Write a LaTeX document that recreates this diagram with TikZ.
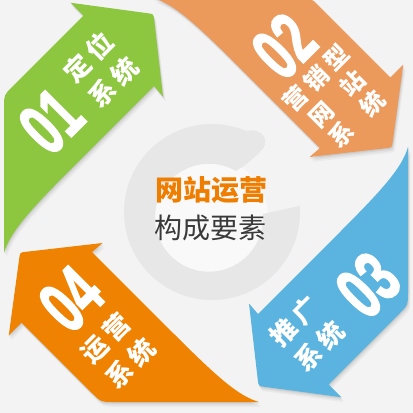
\documentclass[tikz,border=0pt]{standalone}
\usepackage{fontspec}
\newfontfamily\cjk{Noto Sans CJK SC}
\newfontfamily\dig{Liberation Sans}[BoldFeatures={FakeBold=2.5}]
\definecolor{bgc}{HTML}{F3F3F3}
\definecolor{ringc}{HTML}{E7E7E7}
\definecolor{innerc}{HTML}{F9F9F9}
\definecolor{cgreen}{HTML}{8DC63F}
\definecolor{corange}{HTML}{EC9A5C}
\definecolor{cblue}{HTML}{5AB4DF}
\definecolor{cdorange}{HTML}{EF8200}
\definecolor{ctitle}{HTML}{EE7D00}
\definecolor{ctext}{HTML}{3A3A3A}
\newcommand\arrowshape{(4,253) -- (4,107) .. controls (4,95) .. (12.5,86.5) -- (83.4,15.6) -- (70.5,2.75) -- (147.5,13.2) .. controls (153.5,14) .. (154.2,20) -- (163,96.5) -- (154,86) -- (75,165) .. controls (30,210) and (10,232) .. (4,253) -- cycle}
\newcommand\gapx{\hspace{5pt}}
\tikzset{
  lbl/.style={text=white, font=\cjk\bfseries\fontsize{26}{35}\selectfont, align=center, inner sep=0pt},
  num/.style={text=white, font=\dig\bfseries\fontsize{74}{74}\selectfont, inner sep=0pt},
}
\begin{document}
\begin{tikzpicture}[x=1pt,y=-1pt]
\useasboundingbox (0,0) rectangle (413,413);
\fill[bgc] (0,0) rectangle (413,413);
% emblem
\fill[innerc] (210,216) circle (58);
\fill[ringc] (212,212) ++(-4:88) arc[start angle=-4,end angle=293,radius=88]
  .. controls (264,127) and (271,143) .. (260,152)
  .. controls (252,160) and (244,166) .. (236,171)
  arc[start angle=300,end angle=-4,radius=54] -- cycle;
% shadows
\foreach \ang in {0,-90,-180,-270}{
  \foreach \d/\o in {1/0.05,2/0.05,3.5/0.04,5/0.03}{
    \begin{scope}[shift={(0.5*\d,\d)}]
      \begin{scope}[rotate around={\ang:(206,200)}]
        \fill[black,opacity=\o] \arrowshape;
      \end{scope}
    \end{scope}
  }
}
% arrows
\foreach \ang/\col in {0/cgreen,-90/corange,-180/cblue,-270/cdorange}{
  \begin{scope}[rotate around={\ang:(206,200)}]
    \fill[\col] \arrowshape;
  \end{scope}
}
% labels
\node[num, rotate=45] (n01) at (51,121) {\scalebox{0.64}[1]{01}};
\node[lbl, rotate=45] (l01) at (101,70) {定\gapx 位\\系\gapx 统};
\node[num, rotate=45] (n02) at (284,46) {\scalebox{0.64}[1]{02}};
\node[lbl, rotate=45, font=\cjk\bfseries\fontsize{24}{29}\selectfont] (l02) at (337,99) {营\gapx 销\gapx 型\\网\hspace{20pt}站\\系\hspace{20pt}统};
\node[num, rotate=45] (n03) at (368,285) {\scalebox{0.64}[1]{03}};
\node[lbl, rotate=45] (l03) at (307,334) {推\gapx 广\\系\gapx 统};
\node[num, rotate=45] (n04) at (71,299) {\scalebox{0.64}[1]{04}};
\node[lbl, rotate=45] (l04) at (118,351) {运\gapx 营\\系\gapx 统};
% title
\node[font=\cjk\bfseries\fontsize{28}{28}\selectfont, text=ctitle, inner sep=0pt] (t1) at (211,190) {网站运营};
\node[font=\cjk\fontsize{28}{28}\selectfont, text=ctext, inner sep=0pt] (t2) at (210,228) {构成要素};
\end{tikzpicture}
\end{document}
